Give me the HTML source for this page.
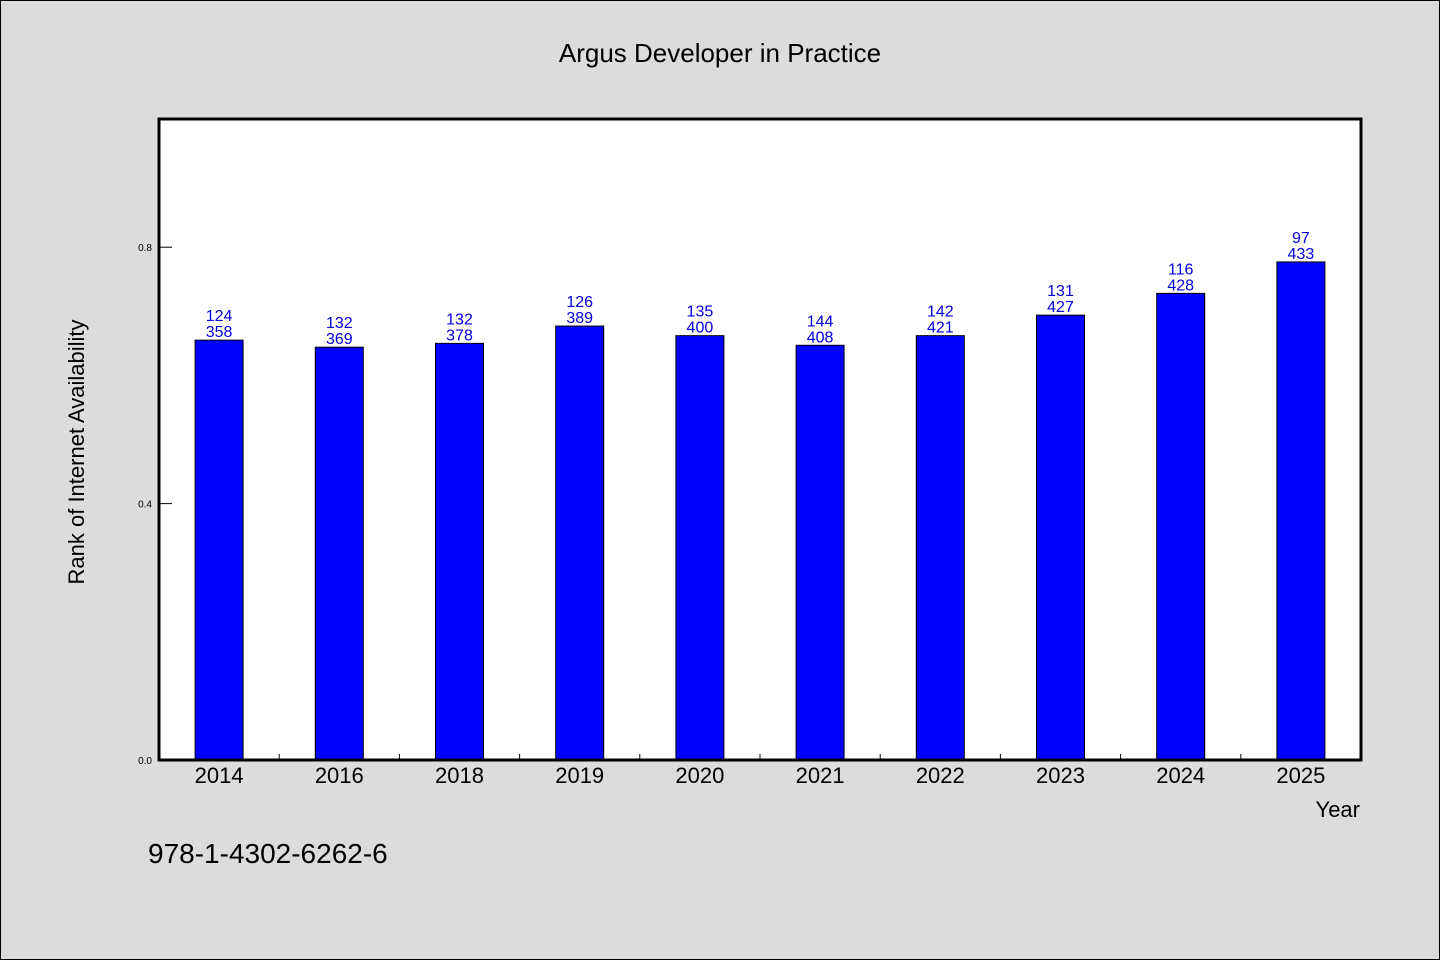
<!DOCTYPE html>
<html><head><meta charset="utf-8"><style>
html,body{margin:0;padding:0;background:#dcdcdc;}
svg{display:block;font-family:"WenQuanYi Zen Hei","Liberation Sans",sans-serif;}
</style></head><body>
<svg id="chart" width="1440" height="960" viewBox="0 0 1440 960">
<rect x="0.5" y="0.5" width="1439" height="959" fill="#dcdcdc" stroke="#000" stroke-width="1"/>
<text x="720" y="62" font-size="26" text-anchor="middle" fill="#000">Argus Developer in Practice</text>
<rect x="159" y="119" width="1202" height="641" fill="#fff"/>
<g id="bars"></g>
<g id="axes"></g>
<rect x="159" y="119" width="1202" height="641" fill="none" stroke="#000" stroke-width="3"/>
<text transform="translate(84,452) rotate(-90)" font-size="22" text-anchor="middle" fill="#000">Rank of Internet Availability</text>
<text x="1360" y="817" font-size="22" text-anchor="end" fill="#000">Year</text>
<text x="148" y="863" font-size="28" fill="#000">978-1-4302-6262-6</text>
</svg>
<script>
const categories=["2014","2016","2018","2019","2020","2021","2022","2023","2024","2025"];
const values=[0.655,0.644,0.650,0.677,0.662,0.647,0.662,0.694,0.728,0.777];
const labelTop=["124","132","132","126","135","144","142","131","116","97"];
const labelBottom=["358","369","378","389","400","408","421","427","428","433"];
const yTicks=[0.0,0.4,0.8];
const yTickLabels=["0.0","0.4","0.8"];
const NS="http://www.w3.org/2000/svg";
const L=159,R=1361,T=119,B=760,yMax=1.0;
const band=(R-L)/categories.length;
const yS=v=>B-(v/yMax)*(B-T);
const xC=i=>L+band*(i+0.5);
function mk(tag,attrs,parent){const e=document.createElementNS(NS,tag);for(const k in attrs)e.setAttribute(k,attrs[k]);parent.appendChild(e);return e;}
const gb=document.getElementById('bars'),ga=document.getElementById('axes');
categories.forEach((c,i)=>{
  const y=yS(values[i]);
  const r=mk('rect',{x:xC(i)-24,y:y,width:48,height:B-y,fill:'#0000ff',stroke:'#000','stroke-width':1},gb);
  
  
  const t1=mk('text',{x:xC(i),y:y-19,'font-size':16,'text-anchor':'middle',fill:'#0000dd'},gb);
  t1.textContent=labelTop[i];
  
  
  const t2=mk('text',{x:xC(i),y:y-3,'font-size':16,'text-anchor':'middle',fill:'#0000dd'},gb);
  t2.textContent=labelBottom[i];
  
  
  const xl=mk('text',{x:xC(i),y:783,'font-size':22,'text-anchor':'middle',fill:'#000'},ga);
  xl.textContent=c;
  
  
  if(i>0){const tk=mk('line',{x1:L+band*i,x2:L+band*i,y1:B,y2:B-6,stroke:'#000','stroke-width':1},ga);
  
  }
});
yTicks.forEach((v,i)=>{
  const y=yS(v);
  const tk=mk('line',{x1:L,x2:L+13,y1:y,y2:y,stroke:'#000','stroke-width':1},ga);
  
  
  const tl=mk('text',{x:152,y:y+4,'font-size':10,'text-anchor':'end',fill:'#000'},ga);
  tl.textContent=yTickLabels[i];
  
  
});
</script>
</body></html>
